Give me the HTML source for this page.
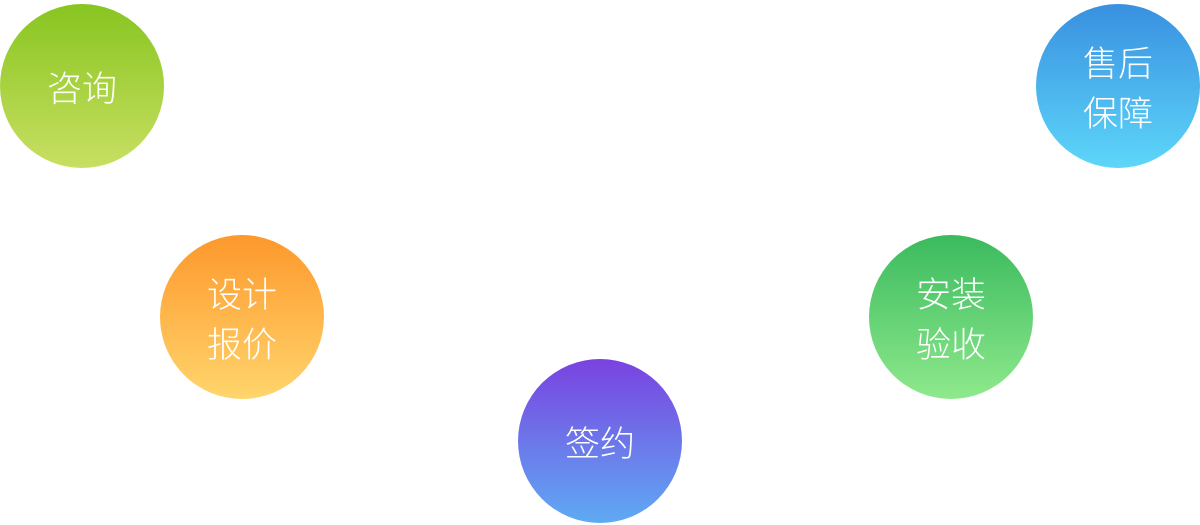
<!DOCTYPE html>
<html><head><meta charset="utf-8"><style>
html,body{margin:0;padding:0;background:#fff;width:1200px;height:525px;overflow:hidden;position:relative}
.c{position:absolute;width:164px;height:164px;border-radius:50%;display:flex;align-items:center;justify-content:center;text-align:center;color:#fff;font-family:"Liberation Sans","Noto Sans CJK SC",sans-serif;font-weight:300;font-size:35px;line-height:50px}
.c span{position:relative;top:4px}
</style></head><body>
<div class="c" style="left:0;top:4px;background:linear-gradient(#88c520,#c8df62)"><span>咨询</span></div>
<div class="c" style="left:160px;top:235px;background:linear-gradient(#fd982c,#ffd56c)"><span>设计<br>报价</span></div>
<div class="c" style="left:518px;top:359px;background:linear-gradient(#7a42e0,#5faaf3)"><span>签约</span></div>
<div class="c" style="left:869px;top:235px;background:linear-gradient(#3bba5e,#8ee98c)"><span>安装<br>验收</span></div>
<div class="c" style="left:1036px;top:4px;background:linear-gradient(#3990e0,#5dd6f9)"><span>售后<br>保障</span></div>
</body></html>
